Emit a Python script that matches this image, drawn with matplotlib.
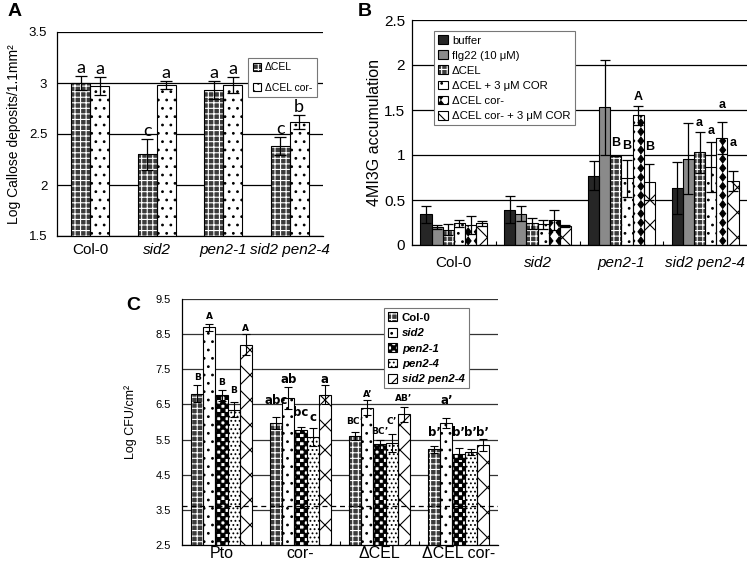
import matplotlib
matplotlib.use('Agg')
import matplotlib.pyplot as plt
import matplotlib.hatch as mhatch
from matplotlib.path import Path
from matplotlib.patches import Patch
import numpy as np

plt.rcParams['font.family'] = ['Liberation Sans', 'DejaVu Sans']
plt.rcParams['hatch.linewidth'] = 0.8

# ---------------- data ----------------
a_groups = ['Col-0', 'sid2', 'pen2-1', 'sid2 pen2-4']
a_series = ['ΔCEL', 'ΔCEL cor-']
a_vals = [[3.00, 2.30, 2.93, 2.38],
          [2.97, 2.98, 2.98, 2.62]]
a_errs = [[0.07, 0.15, 0.09, 0.09],
          [0.09, 0.04, 0.08, 0.07]]
a_letters = [['a', 'c', 'a', 'c'],
             ['a', 'a', 'a', 'b']]
a_yticks = ['1.5', '2', '2.5', '3', '3.5']

b_groups = ['Col-0', 'sid2', 'pen2-1', 'sid2 pen2-4']
b_series = ['buffer', 'flg22 (10 μM)', 'ΔCEL', 'ΔCEL + 3 μM COR',
            'ΔCEL cor-', 'ΔCEL cor- + 3 μM COR']
b_vals = [[0.34, 0.39, 0.77, 0.63],
          [0.20, 0.35, 1.53, 0.96],
          [0.17, 0.24, 0.99, 1.03],
          [0.24, 0.23, 0.74, 0.87],
          [0.22, 0.28, 1.44, 1.19],
          [0.24, 0.21, 0.70, 0.71]]
b_errs = [[0.09, 0.15, 0.16, 0.29],
          [0.02, 0.08, 0.53, 0.39],
          [0.06, 0.06, 0.00, 0.23],
          [0.04, 0.05, 0.21, 0.28],
          [0.10, 0.11, 0.11, 0.18],
          [0.03, 0.01, 0.20, 0.11]]
b_letters = [['', '', '', ''],
             ['', '', '', ''],
             ['', '', 'B', 'a'],
             ['', '', 'B', 'a'],
             ['', '', 'A', 'a'],
             ['', '', 'B', 'a']]
b_letter_y = [[0, 0, 0, 0],
              [0, 0, 0, 0],
              [0, 0, 1.13, 1.36],
              [0, 0, 1.10, 1.27],
              [0, 0, 1.65, 1.55],
              [0, 0, 1.09, 1.13]]
b_yticks = ['0', '0.5', '1', '1.5', '2', '2.5']

c_groups = ['Pto', 'cor-', 'ΔCEL', 'ΔCEL cor-']
c_series = ['Col-0', 'sid2', 'pen2-1', 'pen2-4', 'sid2 pen2-4']
c_vals = [[6.81, 5.96, 5.60, 5.22],
          [8.70, 6.68, 6.41, 5.96],
          [6.76, 5.77, 5.37, 5.10],
          [6.35, 5.57, 5.40, 5.15],
          [8.20, 6.78, 6.22, 5.34]]
c_errs = [[0.23, 0.17, 0.12, 0.10],
          [0.10, 0.32, 0.22, 0.14],
          [0.16, 0.09, 0.13, 0.15],
          [0.22, 0.26, 0.25, 0.08],
          [0.30, 0.27, 0.21, 0.17]]
c_letters = [['B', 'abc', 'BC’', 'b’'],
             ['A', 'ab', 'A’', 'a’'],
             ['B', 'bc', 'BC’', 'b’'],
             ['B', 'c', 'C’', 'b’'],
             ['A', 'a', 'AB’', 'b’']]
c_letter_y = [[7.28, 6.61, 6.00, 5.70],
              [8.99, 7.20, 6.78, 6.62],
              [7.12, 6.26, 5.72, 5.70],
              [6.90, 6.14, 6.00, 5.70],
              [8.67, 7.20, 6.67, 5.70]]
c_limit = 3.6
c_yticks = ['2.5', '3.5', '4.5', '5.5', '6.5', '7.5', '8.5', '9.5']


# ------- extra hatch patterns: 'O' checkerboard, '*' diamonds, 'o' open cross -------
def _square(x0, y0, s):
    return [(x0, y0), (x0 + s, y0), (x0 + s, y0 + s), (x0, y0 + s), (x0, y0)]


POLY = [Path.MOVETO, Path.LINETO, Path.LINETO, Path.LINETO, Path.CLOSEPOLY]


class CheckerHatch(mhatch.HatchPatternBase):
    def __init__(self, hatch, density):
        self.n = hatch.count('O') * 24
        self.num_vertices = (self.n * self.n // 2) * 5

    def set_vertices_and_codes(self, vertices, codes):
        s = 1.0 / self.n
        k = 0
        for i in range(self.n):
            for j in range(self.n):
                if (i + j) % 2 == 0:
                    vertices[k:k + 5] = _square(i * s, j * s, s)
                    codes[k:k + 5] = POLY
                    k += 5


class DiamondHatch(mhatch.HatchPatternBase):
    def __init__(self, hatch, density):
        self.n = hatch.count('*') * 11
        self.num_vertices = self.n * self.n * 5

    def set_vertices_and_codes(self, vertices, codes):
        s = 1.0 / self.n
        hw, hh = 0.32 * s, 0.42 * s
        k = 0
        for i in range(self.n):
            for j in range(self.n):
                cx, cy = (i + 0.5) * s, (j + 0.5) * s
                vertices[k:k + 5] = [(cx, cy - hh), (cx + hw, cy), (cx, cy + hh),
                                     (cx - hw, cy), (cx, cy - hh)]
                codes[k:k + 5] = POLY
                k += 5


class CrossHatch(mhatch.HatchPatternBase):
    def __init__(self, hatch, density):
        self.n = hatch.count('o') * 8
        self.num_vertices = (self.n + 1) * 4 if self.n else 0

    def set_vertices_and_codes(self, vertices, codes):
        m = self.n + 1
        steps = np.linspace(-0.5, 0.5, m)
        ne = vertices[:2 * m]
        se = vertices[2 * m:]
        ne[0::2, 0] = steps
        ne[0::2, 1] = -steps
        ne[1::2, 0] = 1.0 + steps
        ne[1::2, 1] = 1.0 - steps
        se[0::2, 0] = steps
        se[0::2, 1] = 1.0 + steps
        se[1::2, 0] = 1.0 + steps
        se[1::2, 1] = steps
        codes[0::2] = Path.MOVETO
        codes[1::2] = Path.LINETO


_swap = {mhatch.LargeCircles: CheckerHatch, mhatch.Stars: DiamondHatch,
         mhatch.SmallCircles: CrossHatch}
mhatch._hatch_types = [_swap.get(t, t) for t in mhatch._hatch_types]

# (face, hatch, hatch colour)
dark_tex = ('#3c3c3c', '+++', 'white')
a_styles = [dark_tex, ('white', '..', 'black')]
b_styles = [('#262626', '', 'black'), ('#8a8a8a', '', 'black'), dark_tex,
            ('white', '..', 'black'), ('white', '*', 'black'), ('white', 'o', 'black')]
c_styles = [dark_tex, ('white', '..', 'black'), ('white', 'O', 'black'),
            ('white', '....', 'black'), ('white', 'o', 'black')]


def draw_bars(ax, x, h, w, style):
    face, hatch, hcol = style
    ax.bar(x, h, w, color=face, edgecolor=hcol, hatch=hatch, linewidth=0, zorder=2)
    ax.bar(x, h, w, fill=False, edgecolor='black', linewidth=0.8, zorder=3)


def handle(style):
    face, hatch, hcol = style
    return (Patch(facecolor=face, edgecolor=hcol, hatch=hatch, linewidth=0),
            Patch(fill=False, edgecolor='black', linewidth=0.8))


def frame(ax):
    ax.spines['top'].set_visible(False)
    ax.spines['right'].set_visible(False)
    ax.spines['left'].set_linewidth(0.9)
    ax.spines['bottom'].set_linewidth(0.9)
    ax.set_axisbelow(True)
    ax.yaxis.grid(True, color='black', linewidth=0.9)
    ax.tick_params(axis='y', length=0)
    ax.tick_params(axis='x', which='major', length=0)


fig = plt.figure(figsize=(7.47, 5.62), dpi=100)

# ---------------- panel A ----------------
axA = fig.add_axes([57 / 747, 1 - 236 / 562, 266 / 747, 204 / 562])
frame(axA)
x = np.arange(len(a_groups))
w = 0.285
for i, s in enumerate(a_series):
    xs = x + (i - 0.5) * w
    draw_bars(axA, xs, a_vals[i], w, a_styles[i])
    axA.errorbar(xs, a_vals[i], yerr=a_errs[i], fmt='none', ecolor='black',
                 elinewidth=0.9, capsize=4, capthick=0.9, zorder=4)
    for xi, v, e, t in zip(xs, a_vals[i], a_errs[i], a_letters[i]):
        axA.text(xi, v + e + 0.03, t, ha='center', va='baseline',
                 family='Lato', fontsize=13)
axA.set_xlim(-0.5, len(a_groups) - 0.5)
axA.set_ylim(1.5, 3.5)
axA.set_yticks(np.arange(1.5, 3.6, 0.5))
axA.set_yticklabels(a_yticks, fontsize=9.5)
axA.tick_params(axis='y', pad=7)
axA.set_xticks(x)
axA.set_xticklabels(a_groups, fontsize=11)
axA.tick_params(axis='x', pad=5)
for lab in axA.get_xticklabels()[1:]:
    lab.set_style('italic')
axA.set_ylabel('Log Callose deposits/1.1mm²', fontsize=10)
axA.yaxis.set_label_coords(-0.135, 0.5)
leg = axA.legend([handle(s) for s in a_styles], a_series, loc='upper right',
                 bbox_to_anchor=(0.998, 0.9), fontsize=7.5, labelspacing=1.0,
                 handlelength=0.8, handleheight=0.8, handletextpad=0.4,
                 borderpad=0.45, fancybox=False, framealpha=1)
leg.get_frame().set_edgecolor('#777777')
leg.get_frame().set_linewidth(0.8)

# ---------------- panel B ----------------
axB = fig.add_axes([412 / 747, 1 - 245 / 562, 335 / 747, 225 / 562])
frame(axB)
x = np.arange(len(b_groups))
w = 0.133
n = len(b_series)
for i, s in enumerate(b_series):
    xs = x + (i - (n - 1) / 2) * w
    draw_bars(axB, xs, b_vals[i], w, b_styles[i])
    axB.errorbar(xs, b_vals[i], yerr=b_errs[i], fmt='none', ecolor='black',
                 elinewidth=0.9, capsize=3.5, capthick=0.9, zorder=4)
    for xi, t, ty in zip(xs, b_letters[i], b_letter_y[i]):
        if t:
            axB.text(xi, ty, t, ha='center', va='center', fontsize=9,
                     fontweight='bold')
axB.set_xlim(-0.5, len(b_groups) - 0.5)
axB.set_ylim(0, 2.5)
axB.set_yticks(np.arange(0, 2.6, 0.5))
axB.set_yticklabels(b_yticks, fontsize=11)
axB.tick_params(axis='y', pad=5)
axB.set_xticks(x)
axB.set_xticklabels(b_groups, fontsize=11)
axB.tick_params(axis='x', pad=8)
for lab in axB.get_xticklabels()[1:]:
    lab.set_style('italic')
axB.set_xticks(np.arange(0.5, len(b_groups) - 1, 1), minor=True)
axB.tick_params(axis='x', which='minor', direction='in', length=3, width=0.8)
axB.set_ylabel('4MI3G accumulation', fontsize=11.5)
axB.yaxis.set_label_coords(-0.09, 0.5)
leg = axB.legend([handle(s) for s in b_styles], b_series, loc='upper left',
                 bbox_to_anchor=(0.05, 0.975), fontsize=8.2, labelspacing=0.42,
                 handlelength=0.8, handleheight=0.8, handletextpad=0.4,
                 borderpad=0.35, fancybox=False, framealpha=1)
leg.get_frame().set_edgecolor('#777777')
leg.get_frame().set_linewidth(0.8)

# ---------------- panel C ----------------
axC = fig.add_axes([182 / 747, 1 - 545 / 562, 316 / 747, 246 / 562])
frame(axC)
axC.yaxis.grid(True, color='#333333', linewidth=0.9)
x = np.arange(len(c_groups))
w = 0.154
n = len(c_series)
for i, s in enumerate(c_series):
    xs = x + (i - (n - 1) / 2) * w
    draw_bars(axC, xs, c_vals[i], w, c_styles[i])
    axC.errorbar(xs, c_vals[i], yerr=c_errs[i], fmt='none', ecolor='black',
                 elinewidth=0.8, capsize=3, capthick=0.8, zorder=4)
    for j, (xi, t, ty) in enumerate(zip(xs, c_letters[i], c_letter_y[i])):
        fs = 6.5 if j in (0, 2) else 8.5
        axC.text(xi, ty, t, ha='center', va='center', fontsize=fs,
                 fontweight='bold', family='DejaVu Sans')
axC.axhline(c_limit, color='black', linestyle='--', linewidth=0.9,
            dashes=(4, 3), zorder=5)
axC.set_xlim(-0.5, len(c_groups) - 0.5)
axC.set_ylim(2.5, 9.5)
axC.set_yticks(np.arange(2.5, 9.6, 1.0))
axC.set_yticklabels(c_yticks, fontsize=8)
axC.tick_params(axis='y', pad=8)
axC.set_xticks(x)
axC.set_xticklabels(c_groups, fontsize=11.5)
axC.tick_params(axis='x', pad=1)
axC.set_xticks(np.arange(0.5, len(c_groups) - 1, 1), minor=True)
axC.tick_params(axis='x', which='minor', direction='in', length=3, width=0.8)
axC.set_ylabel('Log CFU/cm²', fontsize=9)
axC.yaxis.set_label_coords(-0.142, 0.5)
leg = axC.legend([handle(s) for s in c_styles], c_series, loc='upper left',
                 bbox_to_anchor=(0.622, 0.985), labelspacing=0.45,
                 prop={'size': 8.2, 'weight': 'bold'},
                 handlelength=0.8, handleheight=0.8, handletextpad=0.4,
                 borderpad=0.35, fancybox=False, framealpha=1)
leg.get_frame().set_edgecolor('#777777')
leg.get_frame().set_linewidth(0.8)
for t in leg.get_texts()[1:]:
    t.set_style('italic')

# panel letters
fig.text(8 / 747, 1 - 3 / 562, 'A', fontsize=14, fontweight='bold', va='top')
fig.text(358 / 747, 1 - 3 / 562, 'B', fontsize=14, fontweight='bold', va='top')
fig.text(126 / 747, 1 - 297 / 562, 'C', fontsize=14, fontweight='bold', va='top')

fig.savefig('out.png', dpi=100)
